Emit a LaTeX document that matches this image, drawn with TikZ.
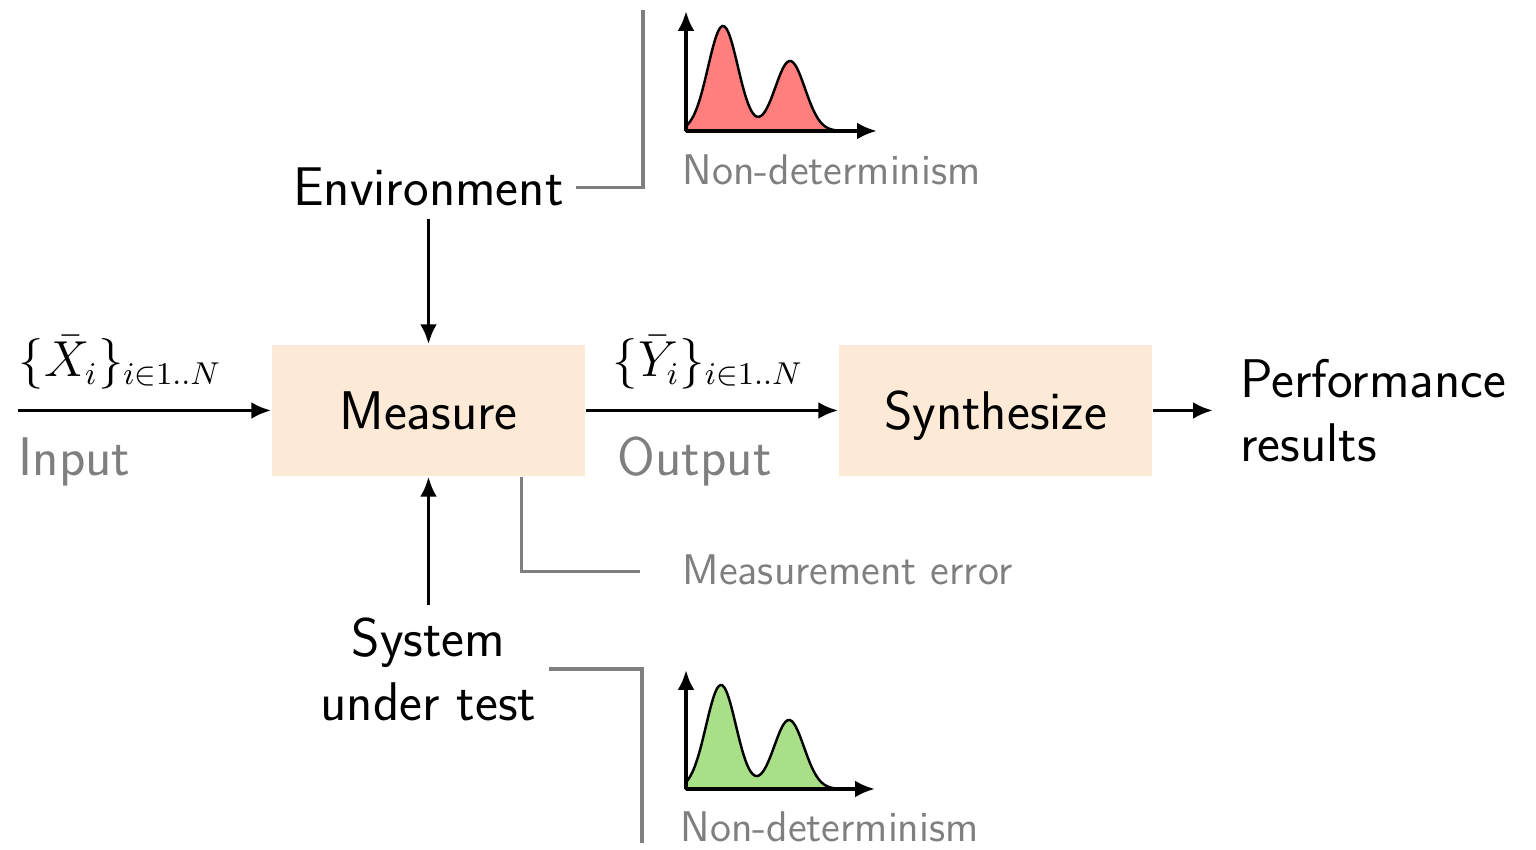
\documentclass[tikz,border=0pt]{standalone}
\usepackage{fontspec}
\usepackage{tikz}
\usetikzlibrary{arrows.meta,positioning,calc}
\renewcommand{\familydefault}{\sfdefault}
\definecolor{boxfill}{HTML}{FDEAD6}
\definecolor{notegray}{HTML}{7F7F7F}
\definecolor{envred}{HTML}{FF7F7F}
\definecolor{sutgreen}{HTML}{A9DF87}

\begin{document}
\begin{tikzpicture}[
    >={Latex[length=2mm,width=1.7mm]},
    stage/.style={fill=boxfill, minimum width=3.13cm, minimum height=1.31cm,
        text height=11pt, text depth=0pt, font=\fontsize{15.5}{18}\selectfont},
    flow/.style={->, line width=1.1pt},
    bracket/.style={draw=notegray, line width=1pt},
    big/.style={font=\fontsize{15.5}{18.2}\selectfont},
    formula/.style={font=\fontsize{13.5}{16}\selectfont, anchor=base west, inner sep=0pt},
    note/.style={text=notegray, font=\fontsize{12.2}{14}\selectfont, inner sep=0pt},
    density/.style={draw=black, line width=0.7pt}
]
    \useasboundingbox (0,0) rectangle (15.36,8.5);

    % Blocks
    \node[stage] (measure) at (4.285,4.395) {Measure};
    \node[stage] (synth) at (9.955,4.395) {Synthesize};

    % Input
    \coordinate (in) at (0.18,4.395);
    \draw[flow] (in) -- (measure);
    \node[formula] (xin) at (0.18,4.73) {$\{\bar{X}_i\}_{i\in 1..N}$};
    \node[big, text=notegray, anchor=base west, inner sep=0pt] (inlbl) at (0.18,3.74) {Input};

    % Output
    \draw[flow] (measure) -- (synth);
    \node[formula] (yout) at (6.12,4.73) {$\{\bar{Y}_i\}_{i\in 1..N}$};
    \node[big, text=notegray, anchor=base west, inner sep=0pt] (outlbl) at (6.17,3.74) {Output};

    % Results
    \coordinate (res) at (12.13,4.395);
    \draw[flow] (synth) -- (res);
    \node[big, align=left, anchor=west] (perf) at (12.28,4.395) {Performance\\results};

    % Environment
    \node[big, anchor=base] (env) at (4.285,6.44) {Environment};
    \draw[flow] (env) -- (measure);
    \draw[bracket] (env.east) -| (6.43,8.40);

    % System under test
    \node[big, align=center] (sut) at (4.285,1.81) {System\\under test};
    \draw[flow] (sut) -- (measure);
    \draw[bracket] (sut.east) -| (6.42,0.07);

    % Measurement error
    \draw[bracket] ([xshift=-0.64cm]measure.south east) |- ++(1.18,-0.95);
    \node[note, anchor=base west] (err) at (6.82,2.65) {Measurement error};

    % Non-determinism of the environment
    \begin{scope}[shift={(6.86,7.19)}]
        \filldraw[density, fill=envred] (0,0) -- plot[domain=0:1.6, samples=80, smooth]
            (\x, {1.05*exp(-(\x-0.37)*(\x-0.37)/0.045) + 0.7*exp(-(\x-1.04)*(\x-1.04)/0.045)}) -- cycle;
        \draw[flow] (0,0) -- (0,1.2);
        \draw[flow] (0,0) -- (1.91,0);
    \end{scope}
    \node[note, anchor=base west] (ndenv) at (6.82,6.65) {Non-determinism};

    % Non-determinism of the system
    \begin{scope}[shift={(6.86,0.61)}]
        \filldraw[density, fill=sutgreen] (0,0) -- plot[domain=0:1.6, samples=80, smooth]
            (\x, {1.04*exp(-(\x-0.35)*(\x-0.35)/0.045) + 0.69*exp(-(\x-1.03)*(\x-1.03)/0.045)}) -- cycle;
        \draw[flow] (0,0) -- (0,1.19);
        \draw[flow] (0,0) -- (1.89,0);
    \end{scope}
    \node[note, anchor=base west] (ndsut) at (6.80,0.08) {Non-determinism};
\end{tikzpicture}
\end{document}
